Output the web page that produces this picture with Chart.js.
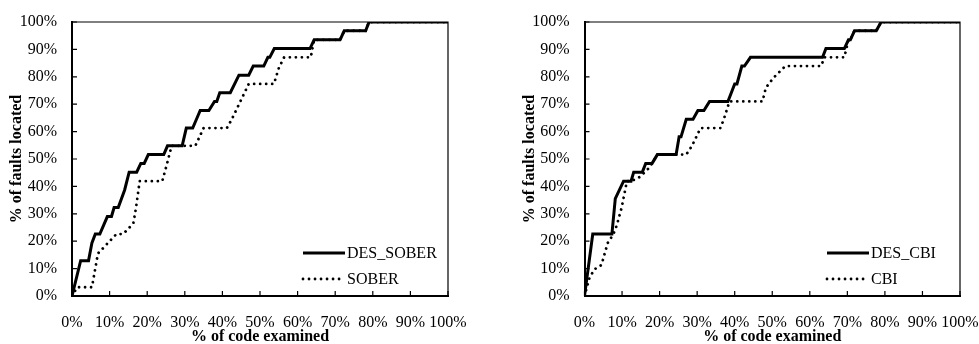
<!DOCTYPE html>
<html>
<head>
<meta charset="utf-8">
<script src="https://cdn.jsdelivr.net/npm/chart.js@4.4.1/dist/chart.umd.min.js"></script>
<style>
  html, body { margin: 0; padding: 0; background: #fff; }
  #wrap { position: relative; width: 979px; height: 344px; overflow: hidden; }
  canvas { position: absolute; top: 0; }
  #left { left: 0; }
  #right { left: 489px; }
</style>
</head>
<body>
<div id="wrap">
  <canvas id="left" width="489" height="344"></canvas>
  <canvas id="right" width="490" height="344"></canvas>
</div>
<script>
// Percentage tick values shared by both axes
const percentTicks = [0, 10, 20, 30, 40, 50, 60, 70, 80, 90, 100];

// Axis titles
const xTitle = '% of code examined';
const yTitle = '% of faults located';

// Series names
const leftNames = ['DES_SOBER', 'SOBER'];
const rightNames = ['DES_CBI', 'CBI'];

// [% of code examined, % of faults located]
const desSober = [
  [0, 0], [2.3, 12.9], [4.4, 12.9], [5.3, 19.4], [6.2, 22.6], [7.4, 22.6], [9.4, 29.0],
  [10.5, 29.0], [11.2, 32.3], [12.3, 32.3], [14.0, 38.7], [15.2, 45.2], [17.2, 45.2],
  [18.3, 48.4], [19.2, 48.4], [20.3, 51.6], [24.4, 51.6], [25.4, 54.8], [29.3, 54.8],
  [30.4, 61.3], [32.1, 61.3], [33.1, 64.5], [34.1, 67.7], [36.4, 67.7], [37.9, 71.0],
  [38.5, 71.0], [39.3, 74.2], [42.1, 74.2], [44.4, 80.6], [47.0, 80.6], [48.2, 83.9],
  [51.0, 83.9], [52.1, 87.1], [52.6, 87.1], [53.8, 90.3], [63.3, 90.3], [64.4, 93.5],
  [71.3, 93.5], [72.4, 96.8], [78.1, 96.8], [79.0, 100], [100, 100]
];

const sober = [
  [0, 0], [1.4, 3.2], [5.3, 3.2], [6.9, 15.5], [11.8, 22.6], [13.6, 22.6], [16.3, 26.5],
  [17.0, 32.0], [18.0, 41.9], [24.0, 41.9], [25.3, 48.4], [26.5, 54.8], [32.8, 54.8],
  [35.0, 61.3], [41.2, 61.3], [42.5, 64.5], [47.0, 77.4], [53.7, 77.4], [55.0, 83.2],
  [56.4, 87.1], [63.5, 87.1], [64.4, 93.5], [71.3, 93.5], [72.4, 96.8], [78.1, 96.8],
  [79.0, 100], [100, 100]
];

const desCbi = [
  [0, 0], [2.2, 22.6], [7.3, 22.6], [8.2, 35.5], [10.4, 41.9], [12.4, 41.9], [13.1, 45.2],
  [15.4, 45.2], [16.3, 48.4], [18.0, 48.4], [19.4, 51.6], [24.4, 51.6], [25.2, 58.1],
  [25.7, 58.1], [27.1, 64.5], [28.9, 64.5], [30.2, 67.7], [31.8, 67.7], [33.3, 71.0],
  [38.2, 71.0], [40.0, 77.4], [40.6, 77.4], [41.9, 83.9], [42.6, 83.9], [44.2, 87.1],
  [63.4, 87.1], [64.3, 90.3], [69.2, 90.3], [70.3, 93.5], [70.8, 93.5], [71.9, 96.8],
  [77.7, 96.8], [79.0, 100], [100, 100]
];

const cbi = [
  [0, 0], [1.3, 6.5], [2.6, 9.7], [4.5, 11.3], [6.2, 19.4], [7.7, 22.6], [8.6, 25.8],
  [9.9, 32.3], [11.3, 41.9], [12.4, 41.9], [14.8, 43.5], [17.1, 46.6], [18.0, 48.4],
  [19.4, 51.6], [27.1, 51.6], [28.7, 55.0], [30.9, 61.3], [36.2, 61.3], [37.1, 64.5],
  [38.6, 71.0], [47.4, 71.0], [48.3, 76.0], [50.3, 79.6], [53.5, 83.9], [63.0, 83.9],
  [63.9, 87.1], [69.2, 87.1], [70.3, 93.5], [70.8, 93.5], [71.9, 96.8], [77.7, 96.8],
  [79.0, 100], [100, 100]
];

const SERIF = '"Liberation Serif", "Times New Roman", serif';

const toPoints = arr => arr.map(([x, y]) => ({ x, y }));

// Frame (top/right), inward tick marks and an in-plot legend
const framePlugin = {
  id: 'frame',
  afterDatasetsDraw(chart, args, opts) {
    const { ctx, chartArea: a, scales: { x, y } } = chart;
    ctx.save();
    ctx.strokeStyle = '#000';
    ctx.lineWidth = 1.2;
    ctx.beginPath();
    ctx.moveTo(a.left, a.top);
    ctx.lineTo(a.right, a.top);
    ctx.lineTo(a.right, a.bottom);
    ctx.stroke();

    ctx.lineWidth = 1.2;
    ctx.beginPath();
    x.ticks.forEach(t => {
      const px = x.getPixelForValue(t.value);
      ctx.moveTo(px, a.bottom);
      ctx.lineTo(px, a.bottom - 5);
    });
    y.ticks.forEach(t => {
      const py = y.getPixelForValue(t.value);
      ctx.moveTo(a.left, py);
      ctx.lineTo(a.left + 5, py);
    });
    ctx.stroke();

    // legend
    const rows = [a.bottom - 43, a.bottom - 17];
    const x0 = a.right - opts.legendInset;
    const len = 42;
    chart.data.datasets.forEach((ds, i) => {
      const ly = rows[i];
      ctx.save();
      ctx.strokeStyle = ds.borderColor;
      ctx.lineWidth = ds.borderWidth;
      ctx.lineCap = ds.borderCapStyle || 'butt';
      ctx.setLineDash(ds.borderDash || []);
      ctx.beginPath();
      ctx.moveTo(x0, ly);
      ctx.lineTo(x0 + len, ly);
      ctx.stroke();
      ctx.restore();
      ctx.fillStyle = '#000';
      ctx.font = '16px ' + SERIF;
      ctx.textBaseline = 'middle';
      ctx.textAlign = 'left';
      ctx.fillText(ds.label, x0 + len + 2, ly + 1);
    });
    ctx.restore();
  }
};

function makeChart(id, names, solid, dotted, cfg) {
  return new Chart(document.getElementById(id), {
    type: 'line',
    data: {
      datasets: [
        {
          label: names[0],
          data: toPoints(solid),
          borderColor: '#000',
          borderWidth: 3,
          pointRadius: 0,
          tension: 0,
          fill: false
        },
        {
          label: names[1],
          data: toPoints(dotted),
          borderColor: '#000',
          borderWidth: 2.8,
          borderDash: [0.01, 6],
          borderCapStyle: 'round',
          pointRadius: 0,
          tension: 0,
          fill: false
        }
      ]
    },
    options: {
      responsive: false,
      animation: false,
      devicePixelRatio: 1,
      layout: { padding: { top: 22, right: cfg.padRight, left: 0, bottom: 0 } },
      plugins: {
        legend: { display: false },
        tooltip: { enabled: false },
        frame: { legendInset: cfg.legendInset }
      },
      scales: {
        x: {
          type: 'linear',
          min: 0,
          max: 100,
          afterBuildTicks: s => { s.ticks = percentTicks.map(v => ({ value: v })); },
          afterFit: s => { s.height = 48; },
          // gap between axis line and labels (grid itself hidden)
          grid: { display: false, drawTicks: true, tickLength: 17 },
          border: { display: true, color: '#000', width: 2 },
          ticks: {
            autoSkip: false,
            maxRotation: 0,
            padding: 0,
            color: '#000',
            font: { family: SERIF, size: 16 },
            callback: v => v + '%'
          },
          title: {
            display: true,
            text: xTitle,
            color: '#000',
            font: { family: SERIF, size: 16, weight: 'bold', lineHeight: 1 },
            padding: { top: 0, bottom: -1 }
          }
        },
        y: {
          type: 'linear',
          min: 0,
          max: 100,
          afterBuildTicks: s => { s.ticks = percentTicks.map(v => ({ value: v })); },
          afterFit: s => { s.width = cfg.yWidth; },
          grid: { display: false, drawTicks: true, tickLength: 15 },
          border: { display: true, color: '#000', width: 2 },
          ticks: {
            autoSkip: false,
            padding: 0,
            color: '#000',
            font: { family: SERIF, size: 16 },
            callback: v => v + '%'
          },
          title: {
            display: true,
            text: yTitle,
            color: '#000',
            font: { family: SERIF, size: 16, weight: 'bold', lineHeight: 1 },
            padding: { top: cfg.yTitlePad, bottom: 0 }
          }
        }
      }
    },
    plugins: [framePlugin]
  });
}

makeChart('left', leftNames, desSober, sober, { padRight: 41, yWidth: 72, yTitlePad: 9, legendInset: 145 });
makeChart('right', rightNames, desCbi, cbi, { padRight: 19, yWidth: 95.5, yTitlePad: 33, legendInset: 133 });
</script>
</body>
</html>
